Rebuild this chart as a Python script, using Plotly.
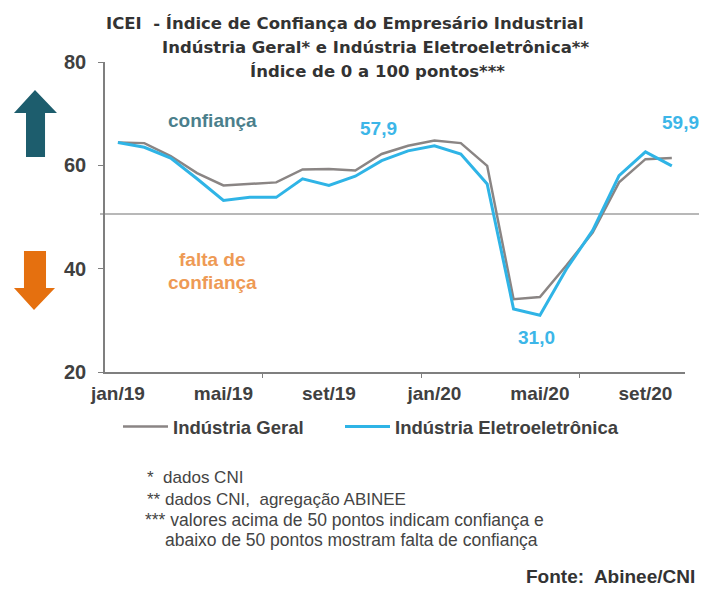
import plotly.graph_objects as go

months = ["jan/19", "fev/19", "mar/19", "abr/19", "mai/19", "jun/19", "jul/19", "ago/19",
          "set/19", "out/19", "nov/19", "dez/19", "jan/20", "fev/20", "mar/20", "abr/20",
          "mai/20", "jun/20", "jul/20", "ago/20", "set/20", "out/20"]
geral = [64.4, 64.3, 61.8, 58.5, 56.1, 56.4, 56.7, 59.2, 59.3, 59.0, 62.2, 63.8,
         64.8, 64.3, 59.9, 34.1, 34.5, 40.6, 47.0, 56.7, 61.2, 61.4]
eletro = [64.4, 63.5, 61.4, 57.4, 53.2, 53.8, 53.8, 57.4, 56.1, 57.9, 60.9, 62.8,
          63.8, 62.2, 56.4, 32.2, 31.0, 39.9, 47.4, 58.0, 62.6, 59.9]
y_ticks = [20, 40, 60, 80]
threshold = 50.6
labels = [(9, 57.9, 23, 48), (16, 31.0, -3, -22), (21, 59.9, 9, 43)]

x = list(range(len(months)))

# page body margin offset (8px) compensated: figure is 8px smaller
OFF = 8
W, H = 707 - OFF, 590 - OFF
# plot area in screen pixels
L, R, T, B = 105, 685, 62, 372
def px(v):
    return (v - L) / (R - L)
def py(v):
    return (B - v) / (B - T)

FONT = "Liberation Sans, Arial, sans-serif"
TFONT = "DejaVu Sans, Verdana, sans-serif"
GRAY = "#8a8584"
BLUE = "#2fb4e6"

fig = go.Figure()
fig.add_trace(go.Scatter(x=x, y=geral, mode="lines", name="Indústria Geral",
                         line=dict(color=GRAY, width=2.5), legend="legend"))
fig.add_trace(go.Scatter(x=x, y=eletro, mode="lines", name="Indústria Eletroeletrônica",
                         line=dict(color=BLUE, width=3), legend="legend2"))

shapes = []
shapes.append(dict(type="line", xref="paper", yref="y", x0=px(100), x1=px(707),
                   y0=threshold, y1=threshold, line=dict(color="#a0a0a0", width=1.5), layer="below"))
def path(points):
    return "M " + " L ".join(f"{px(a):.4f},{py(b):.4f}" for a, b in points) + " Z"
up = [(35, 90), (57, 113), (45, 113), (45, 157), (26, 157), (26, 113), (14, 113)]
down = [(24, 251), (46, 251), (46, 288), (55, 288), (34, 310), (14, 288), (24, 288)]
shapes.append(dict(type="path", xref="paper", yref="paper", path=path(up),
                   fillcolor="#1d5d6d", line=dict(width=0)))
shapes.append(dict(type="path", xref="paper", yref="paper", path=path(down),
                   fillcolor="#e5700f", line=dict(width=0)))

ann = []
def text(t, x0, y0, size, color, bold=True, xanchor="center", family=FONT):
    ann.append(dict(text=f"<b>{t}</b>" if bold else t, xref="paper", yref="paper",
                    x=px(x0), y=py(y0), xanchor=xanchor, yanchor="middle", showarrow=False,
                    font=dict(family=family, size=size, color=color)))

text("ICEI  - Índice de Confiança do Empresário Industrial", 345, 23, 16.5, "#333333", family=TFONT)
text("Indústria Geral* e Indústria Eletroeletrônica**", 375, 47, 16.5, "#333333", family=TFONT)
text("Índice de 0 a 100 pontos***", 377, 71, 16.5, "#333333", family=TFONT)
text("confiança", 212, 120, 19, "#4b7f8c")
text("falta de", 212, 259, 19, "#ee9a55")
text("confiança", 212, 282, 19, "#ee9a55")
fn = "#444444"
text("*  dados CNI", 145, 478, 17, fn, bold=False, xanchor="left")
text("** dados CNI,  agregação ABINEE", 145, 499, 17, fn, bold=False, xanchor="left")
text("*** valores acima de 50 pontos indicam confiança e", 143, 520, 17.5, fn, bold=False, xanchor="left")
text("abaixo de 50 pontos mostram falta de confiança", 163, 540, 17.5, fn, bold=False, xanchor="left")
text("Fonte:  Abinee/CNI", 697, 576, 19, "#333333", xanchor="right")

for i, v, dx, dy in labels:
    ann.append(dict(text=f"<b>{v:.1f}</b>".replace(".", ","), x=x[i], y=v, xref="x", yref="y",
                    xshift=dx, yshift=dy, showarrow=False,
                    font=dict(family=FONT, size=19, color="#3cb6e8")))

legfont = dict(family=FONT, size=18.5, color="#404040", weight="bold")
fig.update_layout(
    width=W, height=H,
    margin=dict(l=L - OFF, r=W - (R - OFF), t=T - OFF, b=H - (B - OFF)),
    paper_bgcolor="white", plot_bgcolor="white",
    showlegend=True,
    legend=dict(orientation="h", x=px(118), y=py(408), xanchor="left", yanchor="top",
                font=legfont, itemwidth=45, bgcolor="rgba(0,0,0,0)"),
    legend2=dict(orientation="h", x=px(340), y=py(408), xanchor="left", yanchor="top",
                 font=legfont, itemwidth=45, bgcolor="rgba(0,0,0,0)"),
    shapes=shapes, annotations=ann,
)
fig.update_xaxes(range=[-0.49, 21.5], tickvals=x[::4], ticktext=months[::4],
                 showgrid=False, zeroline=False, showline=True, linecolor="#7f7f7f", linewidth=1.5,
                 ticks="", ticklabelstandoff=3,
                 tickfont=dict(family=FONT, size=19, color="#404040", weight="bold"),
                 minor=dict(tick0=-0.5, dtick=6, ticks="outside", ticklen=4, tickcolor="#7f7f7f"))
fig.update_yaxes(range=[20, 80], tickvals=y_ticks, showgrid=False, zeroline=False,
                 showline=True, linecolor="#7f7f7f", linewidth=1.5,
                 ticks="outside", ticklen=5, tickcolor="#7f7f7f", ticklabelstandoff=8,
                 tickfont=dict(family=FONT, size=20, color="#404040", weight="bold"))

fig.write_html("out.html")
